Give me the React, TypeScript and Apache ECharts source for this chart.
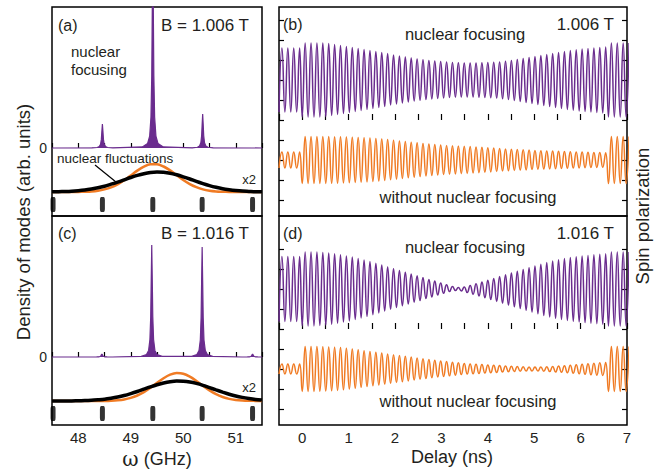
import React, { useEffect, useRef } from 'react';
import * as echarts from 'echarts';

const FONT = '"Liberation Sans", Arial, Helvetica, sans-serif';
const INK = '#231f20';
const PURPLE = '#6a2c8e';
const ORANGE = '#f07b24';

// ---------- left column: density of modes ----------
const OMEGA_MIN = 47.5;
const OMEGA_MAX = 51.5;
const DOM_MIN = -68;
const DOM_MAX = 141;

// purple spectrum, panel (a), B = 1.006 T  [omega GHz, value]
const spectrumA: [number, number][] = [
  [47.5, 0],
  [48.26, 0.13], [48.36, 0.5], [48.4, 1.4], [48.425, 3.7], [48.44, 8.6], [48.45, 16.6], [48.46, 24],
  [48.47, 16.6], [48.48, 8.6], [48.495, 3.7], [48.52, 1.4], [48.56, 0.5], [48.66, 0.13],
  [49.22, 1.1], [49.32, 4.4], [49.36, 11.8], [49.385, 31], [49.4, 72], [49.41, 138], [49.42, 200],
  [49.43, 138], [49.44, 72], [49.455, 31], [49.48, 11.8], [49.52, 4.4], [49.62, 1.1],
  [50.17, 0.2], [50.27, 0.75], [50.31, 2], [50.335, 5.3], [50.35, 12.2], [50.36, 23.5], [50.37, 34],
  [50.38, 23.5], [50.39, 12.2], [50.405, 5.3], [50.43, 2], [50.47, 0.75], [50.57, 0.2],
  [51.5, 0],
];

// purple spectrum, panel (c), B = 1.016 T
const spectrumC: [number, number][] = [
  [47.5, 0],
  [48.25, 0], [48.35, 0.1], [48.39, 0.2], [48.415, 0.5], [48.43, 1.1], [48.44, 2.1], [48.45, 3],
  [48.46, 2.1], [48.47, 1.1], [48.485, 0.5], [48.51, 0.2], [48.55, 0.1], [48.65, 0],
  [49.2, 0.6], [49.3, 2.5], [49.34, 6.6], [49.365, 17.4], [49.38, 40], [49.39, 77], [49.4, 112],
  [49.41, 77], [49.42, 40], [49.435, 17.4], [49.46, 6.6], [49.5, 2.5], [49.6, 0.6],
  [50.16, 0.6], [50.26, 2.4], [50.3, 6.5], [50.325, 17], [50.34, 39.6], [50.35, 76], [50.36, 110],
  [50.37, 76], [50.38, 39.6], [50.395, 17], [50.42, 6.5], [50.46, 2.4], [50.56, 0.6],
  [51.12, 0], [51.22, 0.1], [51.26, 0.2], [51.285, 0.5], [51.3, 1.1], [51.31, 2.1], [51.32, 3],
  [51.33, 2.1], [51.34, 1.1], [51.355, 0.5], [51.38, 0.2], [51.42, 0.1], [51.5, 0],
];

// nuclear fluctuation distributions (x2), sampled every 0.125 GHz from 47.5 to 51.5
const FLUCT_BASE = -44;
const fluctOmega = [
  47.5, 47.625, 47.75, 47.875, 48, 48.125, 48.25, 48.375, 48.5, 48.625, 48.75, 48.875,
  49, 49.125, 49.25, 49.375, 49.5, 49.625, 49.75, 49.875, 50, 50.125, 50.25, 50.375,
  50.5, 50.625, 50.75, 50.875, 51, 51.125, 51.25, 51.375, 51.5,
];
const fluctBlackA = [
  0.2, 0.3, 0.5, 0.8, 1.3, 2.0, 3.0, 4.2, 5.8, 7.8, 9.9, 12.2,
  14.5, 16.6, 18.3, 19.5, 20, 19.7, 18.8, 17.2, 15.2, 13.0, 10.6, 8.4,
  6.4, 4.7, 3.3, 2.3, 1.5, 0.9, 0.6, 0.3, 0.2,
];
const fluctOrangeA = [
  0, 0, 0, 0, 0.1, 0.3, 0.6, 1.3, 2.6, 4.6, 7.7, 11.8,
  16.6, 21.4, 25.4, 27.7, 27.7, 25.5, 21.6, 16.8, 12, 7.9, 4.8, 2.6,
  1.3, 0.6, 0.3, 0.1, 0, 0, 0, 0, 0,
];
const fluctBlackC = [
  0, 0, 0.1, 0.1, 0.3, 0.4, 0.7, 1.2, 1.8, 2.8, 4.0, 5.5,
  7.4, 9.5, 11.8, 14.1, 16.2, 18.0, 19.3, 20.0, 19.8, 19.0, 17.6, 15.7,
  13.4, 11.1, 8.9, 6.8, 5.0, 3.6, 2.5, 1.6, 1.0,
];
const fluctOrangeC = [
  0, 0, 0, 0, 0, 0, 0, 0, 0.1, 0.35, 0.8, 1.6,
  3.1, 5.5, 8.9, 13.3, 18.2, 22.8, 26.3, 27.9, 27.3, 24.4, 20.1, 15.2,
  10.6, 6.8, 4.0, 2.1, 1.1, 0.5, 0.2, 0.1, 0,
];

// mode-locking comb
const COMB_LEVEL = -56.5;
const combOmega = [47.52, 48.46, 49.42, 50.36, 51.32];

// ---------- right column: spin polarization ----------
const DELAY_MIN = -0.5;
const DELAY_MAX = 7;
const POL_MIN = -96;
const POL_MAX = 113;
const POL_TICK_STEP = 20;
const PURPLE_OFFSET = 40;
const ORANGE_OFFSET = -40;
const SEGMENT_START = [-0.5, 0, 6.6]; // ns: before pulse, after pulse at 0, after next pulse
const HALF_PERIOD = 0.0635; // ns

// amplitude of each precession cycle
const purpleBPre = [32, 32, 32, 32];
const purpleBMain = [37, 37, 37, 37, 36.5, 35.5, 34.5, 33.5, 32.5, 31.5, 30.5, 29.5, 28.5, 27.5, 26.5, 25, 24, 23, 22, 21, 20.2, 19.5, 19, 18.5, 18, 17.5, 17.2, 17, 17, 17, 17.2, 17.4, 17.7, 18, 18.8, 19.6, 20.5, 21.5, 22.5, 23.5, 24.5, 25.5, 26.5, 27.5, 28.5, 29.5, 30.2, 31, 31.5, 32, 32.5, 33];
const purpleBPost = [37, 37, 37, 37];

const orangeBPre = [8, 8, 8, 8];
const orangeBMain = [23.5, 23.5, 23.5, 23.4, 23.4, 23.3, 23.3, 23, 22.8, 22.5, 22.2, 21.9, 21.5, 21, 20.4, 19.8, 19.1, 18.4, 17.8, 17.2, 16.6, 16, 15.5, 15, 14.6, 14.3, 14, 13.7, 13.4, 13.1, 12.7, 12.3, 11.9, 11.5, 11.1, 10.8, 10.5, 10.2, 9.9, 9.6, 9.3, 9.1, 8.9, 8.7, 8.5, 8.3, 8.1, 7.9, 7.7, 7.6, 7.4, 7.3];
const orangeBPost = [23.5, 23.5, 23.5, 23.5];

const purpleDPre = [32.5, 32.5, 32.5, 32.5];
const purpleDMain = [37, 37, 37, 36.5, 36, 35.2, 34.2, 33, 32, 30.5, 29, 27.5, 25.7, 24, 22, 20.3, 18.5, 16.8, 15, 13.2, 11.5, 9.6, 8, 6, 4.2, 2.6, 1.5, 2, 3.5, 5.2, 7, 8.8, 10.6, 12.4, 14.2, 16, 17.8, 19.5, 21.2, 23, 24.8, 26.5, 28, 29.3, 30.5, 31.5, 32.3, 33, 33.6, 34.2, 34.7, 35.2];
const purpleDPost = [37, 37, 37, 37];

const orangeDPre = [5, 5, 5, 5];
const orangeDMain = [22.5, 22.5, 22.4, 22.2, 22, 21.8, 21.5, 20.8, 20, 19.2, 18.3, 17.5, 16.7, 15.9, 15.1, 14.3, 13.5, 12.7, 11.9, 11.1, 10.3, 9.5, 8.7, 8, 7.4, 6.8, 6.2, 5.6, 5.1, 4.8, 4.5, 4.1, 3.8, 3.4, 3, 2.7, 2.5, 2.3, 2.1, 2, 2, 2.2, 2.6, 3, 3.3, 3.8, 4.2, 4.8, 5.3, 5.8, 6.2, 6.5];
const orangeDPost = [22.5, 22.5, 22.5, 22.5];

// ---------- builders ----------
const shifted = (xs: number[], ys: number[], base: number) => xs.map((x, i) => [x, base + ys[i]]);

function cycles(pre: number[], main: number[], post: number[], offset: number) {
  const pts: number[][] = [];
  [pre, main, post].forEach((amps, s) => {
    let t = SEGMENT_START[s];
    amps.forEach((a) => {
      pts.push([t, offset - a]);
      pts.push([t + HALF_PERIOD, offset + a]);
      t += 2 * HALF_PERIOD;
    });
  });
  return pts;
}

const tickStyle = { color: '#000', width: 1.2 };

function omegaAxis(grid: number, labels: boolean) {
  return {
    type: 'value', gridIndex: grid, min: OMEGA_MIN, max: OMEGA_MAX, interval: 0.5,
    axisLine: { show: false },
    axisTick: { show: true, inside: true, length: 5, lineStyle: tickStyle },
    splitLine: { show: false },
    axisLabel: {
      show: labels, margin: 5, fontSize: 15, color: INK, fontFamily: FONT,
      formatter: (v: number) => (Number.isInteger(v) ? String(v) : ''),
    },
  };
}
function delayAxis(grid: number, labels: boolean) {
  return {
    type: 'value', gridIndex: grid, min: DELAY_MIN, max: DELAY_MAX, interval: 0.5,
    axisLine: { show: false },
    axisTick: { show: true, inside: true, length: 6, lineStyle: tickStyle },
    splitLine: { show: false },
    axisLabel: {
      show: labels, margin: 5, fontSize: 15, color: INK, fontFamily: FONT,
      formatter: (v: number) => (Number.isInteger(v) ? String(v) : ''),
    },
  };
}
function hiddenX(grid: number) {
  return { type: 'value', gridIndex: grid, min: 0, max: 1, show: false };
}
function domAxis(grid: number) {
  return {
    type: 'value', gridIndex: grid, min: DOM_MIN, max: DOM_MAX,
    axisLine: { show: false }, axisTick: { show: false }, splitLine: { show: false },
    axisLabel: { show: true, customValues: [0], margin: 5, fontSize: 14, color: INK, fontFamily: FONT },
  };
}
function polAxis(grid: number) {
  return {
    type: 'value', gridIndex: grid, min: POL_MIN, max: POL_MAX,
    axisLine: { show: false }, splitLine: { show: false }, axisLabel: { show: false }, axisTick: { show: false },
  };
}
// tick-only axes spanning the tick range of the spin-polarization panels
function polTickAxis(grid: number, span: number, position: string) {
  return {
    type: 'value', gridIndex: grid, min: 0, max: span, interval: POL_TICK_STEP, position,
    axisLine: { show: false }, splitLine: { show: false }, axisLabel: { show: false },
    axisTick: { show: true, inside: true, length: 5, lineStyle: tickStyle },
  };
}

function spectrumSeries(x: number, y: number, data: [number, number][]) {
  return {
    type: 'line', xAxisIndex: x, yAxisIndex: y, data, symbol: 'none', z: 3,
    lineStyle: { color: PURPLE, width: 1.2 },
    areaStyle: { color: PURPLE, opacity: 1, origin: 'auto' },
  };
}
function fluctSeries(x: number, y: number, ys: number[], color: string, width: number, z: number) {
  return {
    type: 'line', xAxisIndex: x, yAxisIndex: y, data: shifted(fluctOmega, ys, FLUCT_BASE),
    symbol: 'none', smooth: 0.3, z, lineStyle: { color, width },
  };
}
function combSeries(x: number, y: number) {
  return {
    type: 'scatter', xAxisIndex: x, yAxisIndex: y, symbol: 'roundRect', symbolSize: [5, 15],
    itemStyle: { color: '#000' }, data: combOmega.map((w) => [w, COMB_LEVEL]),
  };
}
function oscSeries(x: number, y: number, data: number[][], color: string) {
  return {
    type: 'line', xAxisIndex: x, yAxisIndex: y, data, symbol: 'none', smooth: 0.5,
    lineStyle: { color, width: 1.5 },
  };
}

function txt(text: string, x: number, y: number, size: number, align = 'left', extra: any = {}) {
  return {
    type: 'text', x, y, z: 100, ...extra,
    style: {
      text, fontSize: size, fontFamily: FONT, fill: INK,
      align, verticalAlign: 'middle', textAlign: align, textVerticalAlign: 'middle',
    },
  };
}

const grid = { show: true, borderColor: '#000', borderWidth: 1.5, backgroundColor: 'transparent' };

const option: any = {
  animation: false,
  backgroundColor: '#fff',
  textStyle: { fontFamily: FONT },
  grid: [
    { ...grid, left: 52, top: 7, width: 210, height: 209 },
    { ...grid, left: 52, top: 216, width: 210, height: 209 },
    { ...grid, left: 279, top: 7, width: 348, height: 209 },
    { ...grid, left: 279, top: 216, width: 348, height: 209 },
    { show: false, left: 279, top: 20, width: 348, height: 180 },
    { show: false, left: 279, top: 249, width: 348, height: 160 },
  ],
  xAxis: [
    omegaAxis(0, false), omegaAxis(1, true), delayAxis(2, false), delayAxis(3, true),
    hiddenX(4), hiddenX(5),
  ],
  yAxis: [
    domAxis(0), domAxis(1), polAxis(2), polAxis(3),
    polTickAxis(4, 180, 'left'), polTickAxis(4, 180, 'right'),
    polTickAxis(5, 160, 'left'), polTickAxis(5, 160, 'right'),
  ],
  series: [
    spectrumSeries(0, 0, spectrumA),
    fluctSeries(0, 0, fluctOrangeA, ORANGE, 2.5, 4),
    fluctSeries(0, 0, fluctBlackA, '#000', 3.5, 5),
    combSeries(0, 0),
    spectrumSeries(1, 1, spectrumC),
    fluctSeries(1, 1, fluctOrangeC, ORANGE, 2.5, 4),
    fluctSeries(1, 1, fluctBlackC, '#000', 3.5, 5),
    combSeries(1, 1),
    oscSeries(2, 2, cycles(purpleBPre, purpleBMain, purpleBPost, PURPLE_OFFSET), PURPLE),
    oscSeries(2, 2, cycles(orangeBPre, orangeBMain, orangeBPost, ORANGE_OFFSET), ORANGE),
    oscSeries(3, 3, cycles(purpleDPre, purpleDMain, purpleDPost, PURPLE_OFFSET), PURPLE),
    oscSeries(3, 3, cycles(orangeDPre, orangeDMain, orangeDPost, ORANGE_OFFSET), ORANGE),
  ],
  graphic: [
    txt('(a)', 58, 25, 16),
    txt('B = 1.006 T', 249, 25, 17, 'right'),
    txt('nuclear', 71, 51, 15),
    txt('focusing', 71, 69, 15),
    txt('nuclear fluctuations', 57, 158, 13.5),
    { type: 'line', z: 100, shape: { x1: 95, y1: 165, x2: 116, y2: 182 }, style: { stroke: '#000', lineWidth: 1.2 } },
    txt('x2', 256, 179, 13, 'right'),
    txt('(c)', 58, 233, 16),
    txt('B = 1.016 T', 249, 233, 17, 'right'),
    txt('x2', 256, 387, 13, 'right'),
    txt('(b)', 283, 24, 16),
    txt('1.006 T', 614, 24, 17, 'right'),
    txt('nuclear focusing', 465, 34, 16.5, 'center'),
    txt('without nuclear focusing', 468, 197, 16.5, 'center'),
    txt('(d)', 283, 233, 16),
    txt('1.016 T', 614, 233, 17, 'right'),
    txt('nuclear focusing', 465, 247, 16.5, 'center'),
    txt('without nuclear focusing', 468, 401, 16.5, 'center'),
    {
      type: 'text', x: 157, y: 459, z: 100,
      style: {
        text: '{w|ω} (GHz)', fontSize: 18, fontFamily: FONT, fill: INK,
        align: 'center', verticalAlign: 'middle', textAlign: 'center', textVerticalAlign: 'middle',
        rich: { w: { fontFamily: '"DejaVu Serif", "Liberation Serif", serif', fontSize: 20, fill: INK } },
      },
    },
    txt('Delay (ns)', 452, 457, 18, 'center'),
    txt('Density of modes (arb. units)', 23, 222, 18.5, 'center', { rotation: Math.PI / 2 }),
    txt('Spin polarization', 642, 216, 18.5, 'center', { rotation: Math.PI / 2 }),
  ],
};

export default function App() {
  const ref = useRef<HTMLDivElement>(null);
  useEffect(() => {
    const chart = echarts.init(ref.current as HTMLDivElement, undefined, { renderer: 'svg' });
    chart.setOption(option);
    return () => chart.dispose();
  }, []);
  return (
    <div
      ref={ref}
      style={{ position: 'absolute', left: 0, top: 0, width: 658, height: 470, background: '#fff' }}
    />
  );
}
